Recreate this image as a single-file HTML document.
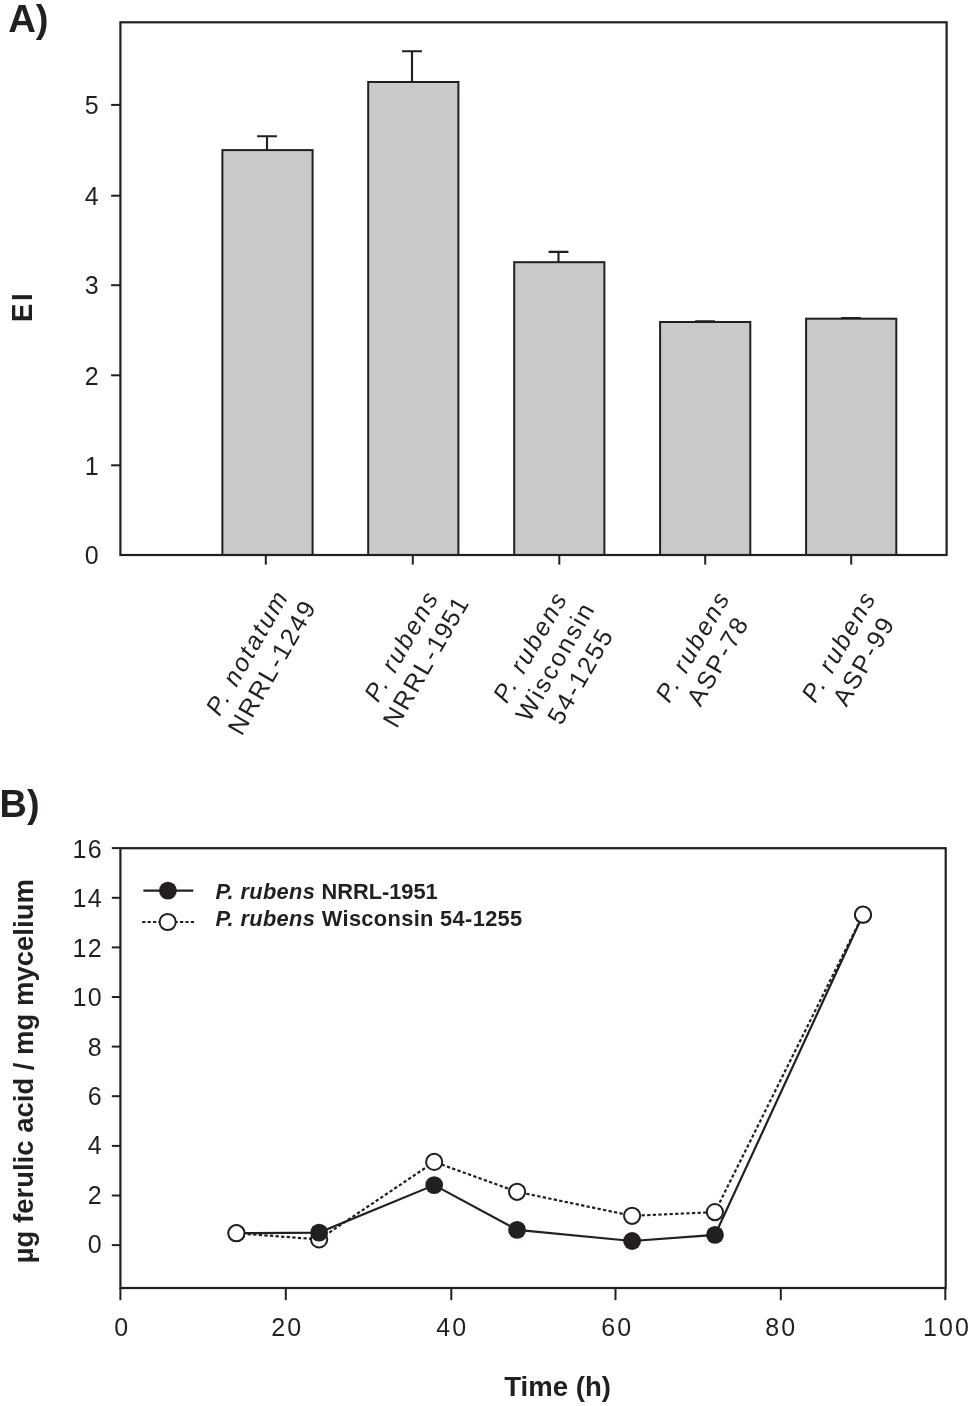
<!DOCTYPE html><html><head><meta charset="utf-8"><title>Figure</title><style>
html,body{margin:0;padding:0;background:#fff;}
body{width:969px;height:1406px;overflow:hidden;font-family:"Liberation Sans",sans-serif;}
svg{display:block;will-change:transform;font-family:"Liberation Sans",sans-serif;fill:#231f20;}
.t{font-size:25px;letter-spacing:0.8px;}
.b{font-weight:bold;}
.i{font-style:italic;}
</style></head><body>
<svg width="969" height="1406" viewBox="0 0 969 1406">
<rect x="0" y="0" width="969" height="1406" fill="#fff"/>
<text x="8.2" y="32" class="b" style="font-size:38.3px">A)</text>
<path d="M267.0 150.1 V136.3 M257.1 136.3 H276.9" stroke="#231f20" stroke-width="2.1" fill="none"/>
<rect x="222.4" y="150.1" width="90.2" height="404.9" fill="#c8c9cb" stroke="#231f20" stroke-width="2"/>
<path d="M265.8 555.0 v9.6" stroke="#231f20" stroke-width="2"/>
<path d="M412.0 82.0 V51.3 M402.1 51.3 H421.9" stroke="#231f20" stroke-width="2.1" fill="none"/>
<rect x="368.2" y="82.0" width="90.2" height="473.0" fill="#c8c9cb" stroke="#231f20" stroke-width="2"/>
<path d="M412.8 555.0 v9.6" stroke="#231f20" stroke-width="2"/>
<path d="M558.5 262.2 V251.9 M548.6 251.9 H568.4" stroke="#231f20" stroke-width="2.1" fill="none"/>
<rect x="514.2" y="262.2" width="90.2" height="292.8" fill="#c8c9cb" stroke="#231f20" stroke-width="2"/>
<path d="M559.3 555.0 v9.6" stroke="#231f20" stroke-width="2"/>
<path d="M705.1 322.0 V321.2 M695.2 321.2 H715.0" stroke="#231f20" stroke-width="2.1" fill="none"/>
<rect x="660.1" y="322.0" width="90.2" height="233.0" fill="#c8c9cb" stroke="#231f20" stroke-width="2"/>
<path d="M705.2 555.0 v9.6" stroke="#231f20" stroke-width="2"/>
<path d="M851.0 318.7 V318.0 M841.1 318.0 H860.9" stroke="#231f20" stroke-width="2.1" fill="none"/>
<rect x="806.1" y="318.7" width="90.2" height="236.3" fill="#c8c9cb" stroke="#231f20" stroke-width="2"/>
<path d="M851.2 555.0 v9.6" stroke="#231f20" stroke-width="2"/>
<rect x="120.4" y="22.3" width="826.2" height="532.7" fill="none" stroke="#231f20" stroke-width="2.2"/>
<text x="98.6" y="564.0" text-anchor="end" class="t" style="letter-spacing:0">0</text>
<path d="M120.4 465.3 h-9.3" stroke="#231f20" stroke-width="2"/>
<text x="98.6" y="474.5" text-anchor="end" class="t" style="letter-spacing:0">1</text>
<path d="M120.4 375.3 h-9.3" stroke="#231f20" stroke-width="2"/>
<text x="98.6" y="384.5" text-anchor="end" class="t" style="letter-spacing:0">2</text>
<path d="M120.4 285.2 h-9.3" stroke="#231f20" stroke-width="2"/>
<text x="98.6" y="294.4" text-anchor="end" class="t" style="letter-spacing:0">3</text>
<path d="M120.4 195.7 h-9.3" stroke="#231f20" stroke-width="2"/>
<text x="98.6" y="204.9" text-anchor="end" class="t" style="letter-spacing:0">4</text>
<path d="M120.4 104.9 h-9.3" stroke="#231f20" stroke-width="2"/>
<text x="98.6" y="114.1" text-anchor="end" class="t" style="letter-spacing:0">5</text>
<text transform="translate(32,322) rotate(-90) scale(1,1.045)" class="b" style="font-size:27.6px;letter-spacing:2.5px">EI</text>
<g transform="translate(266.50,664.83) rotate(-60)">
<text x="1.12" y="-14.55" text-anchor="middle" class="t i" style="letter-spacing:2.25px">P. notatum</text>
<text x="1.07" y="14.55" text-anchor="middle" class="t" style="letter-spacing:2.15px">NRRL-1249</text>
</g>
<g transform="translate(421.00,658.13) rotate(-60)">
<text x="1.12" y="-14.55" text-anchor="middle" class="t i" style="letter-spacing:2.25px">P. rubens</text>
<text x="-0.62" y="14.55" text-anchor="middle" class="t" style="letter-spacing:2.15px">NRRL-<tspan style="letter-spacing:0.85px">1951</tspan></text>
</g>
<g transform="translate(562.30,666.40) rotate(-60)">
<text x="1.12" y="-29.10" text-anchor="middle" class="t i" style="letter-spacing:2.25px">P. rubens</text>
<text x="1.07" y="0.00" text-anchor="middle" class="t" style="letter-spacing:2.15px">Wisconsin</text>
<text x="1.07" y="29.10" text-anchor="middle" class="t" style="letter-spacing:2.15px">54-1255</text>
</g>
<g transform="translate(712.20,658.60) rotate(-60)">
<text x="1.12" y="-14.55" text-anchor="middle" class="t i" style="letter-spacing:2.25px">P. rubens</text>
<text x="1.07" y="14.55" text-anchor="middle" class="t" style="letter-spacing:2.15px">ASP-78</text>
</g>
<g transform="translate(858.20,658.60) rotate(-60)">
<text x="1.12" y="-14.55" text-anchor="middle" class="t i" style="letter-spacing:2.25px">P. rubens</text>
<text x="1.07" y="14.55" text-anchor="middle" class="t" style="letter-spacing:2.15px">ASP-99</text>
</g>
<text x="-0.4" y="816.6" class="b" style="font-size:37.9px">B)</text>
<rect x="120.4" y="848.2" width="825.3" height="439.8" fill="none" stroke="#231f20" stroke-width="2.2"/>
<path d="M120.4 1245.1 h-8.6" stroke="#231f20" stroke-width="2"/>
<text x="102.8" y="1253.0" text-anchor="end" class="t" style="letter-spacing:1.2px">0</text>
<path d="M120.4 1195.5 h-8.6" stroke="#231f20" stroke-width="2"/>
<text x="102.8" y="1203.6" text-anchor="end" class="t" style="letter-spacing:1.2px">2</text>
<path d="M120.4 1145.9 h-8.6" stroke="#231f20" stroke-width="2"/>
<text x="102.8" y="1154.2" text-anchor="end" class="t" style="letter-spacing:1.2px">4</text>
<path d="M120.4 1096.2 h-8.6" stroke="#231f20" stroke-width="2"/>
<text x="102.8" y="1104.9" text-anchor="end" class="t" style="letter-spacing:1.2px">6</text>
<path d="M120.4 1046.6 h-8.6" stroke="#231f20" stroke-width="2"/>
<text x="102.8" y="1055.5" text-anchor="end" class="t" style="letter-spacing:1.2px">8</text>
<path d="M120.4 997.0 h-8.6" stroke="#231f20" stroke-width="2"/>
<text x="102.8" y="1006.1" text-anchor="end" class="t" style="letter-spacing:1.2px">10</text>
<path d="M120.4 947.4 h-8.6" stroke="#231f20" stroke-width="2"/>
<text x="102.8" y="956.7" text-anchor="end" class="t" style="letter-spacing:1.2px">12</text>
<path d="M120.4 897.8 h-8.6" stroke="#231f20" stroke-width="2"/>
<text x="102.8" y="907.3" text-anchor="end" class="t" style="letter-spacing:1.2px">14</text>
<path d="M120.4 848.1 h-8.6" stroke="#231f20" stroke-width="2"/>
<text x="102.8" y="858.0" text-anchor="end" class="t" style="letter-spacing:1.2px">16</text>
<path d="M120.4 1288.0 v12.2" stroke="#231f20" stroke-width="2"/>
<text x="122.2" y="1335.8" text-anchor="middle" class="t" style="letter-spacing:2px">0</text>
<path d="M285.8 1288.0 v12.2" stroke="#231f20" stroke-width="2"/>
<text x="287.2" y="1335.8" text-anchor="middle" class="t" style="letter-spacing:2px">20</text>
<path d="M451.3 1288.0 v12.2" stroke="#231f20" stroke-width="2"/>
<text x="452.2" y="1335.8" text-anchor="middle" class="t" style="letter-spacing:2px">40</text>
<path d="M615.5 1288.0 v12.2" stroke="#231f20" stroke-width="2"/>
<text x="617.2" y="1335.8" text-anchor="middle" class="t" style="letter-spacing:2px">60</text>
<path d="M780.8 1288.0 v12.2" stroke="#231f20" stroke-width="2"/>
<text x="781.2" y="1335.8" text-anchor="middle" class="t" style="letter-spacing:2px">80</text>
<path d="M945.3 1288.0 v12.2" stroke="#231f20" stroke-width="2"/>
<text x="923.1" y="1335.8" class="t" style="letter-spacing:2.1px">100</text>
<polyline points="236.5,1233.2 319.1,1232.6 434.2,1185.1 517.1,1229.9 632.1,1241.0 715.0,1234.9 863.0,914.7" fill="none" stroke="#231f20" stroke-width="2.2"/>
<polyline points="236.4,1233.2 319.1,1239.4 434.2,1161.9 517.1,1191.8 632.1,1215.8 714.9,1212.1 863.0,914.7" fill="none" stroke="#231f20" stroke-width="2.2" stroke-dasharray="3.3 2.3"/>
<circle cx="236.5" cy="1233.2" r="8.9" fill="#231f20"/>
<circle cx="236.4" cy="1233.2" r="8.1" fill="#fff" stroke="#231f20" stroke-width="2"/>
<circle cx="319.1" cy="1239.4" r="8.1" fill="#fff" stroke="#231f20" stroke-width="2"/>
<circle cx="319.1" cy="1232.6" r="8.9" fill="#231f20"/>
<circle cx="434.2" cy="1161.9" r="8.1" fill="#fff" stroke="#231f20" stroke-width="2"/>
<circle cx="434.2" cy="1185.1" r="8.9" fill="#231f20"/>
<circle cx="517.1" cy="1191.8" r="8.1" fill="#fff" stroke="#231f20" stroke-width="2"/>
<circle cx="517.1" cy="1229.9" r="8.9" fill="#231f20"/>
<circle cx="632.1" cy="1215.8" r="8.1" fill="#fff" stroke="#231f20" stroke-width="2"/>
<circle cx="632.1" cy="1241.0" r="8.9" fill="#231f20"/>
<circle cx="714.9" cy="1212.1" r="8.1" fill="#fff" stroke="#231f20" stroke-width="2"/>
<circle cx="715.0" cy="1234.9" r="8.9" fill="#231f20"/>
<circle cx="863.0" cy="914.7" r="8.9" fill="#231f20"/>
<circle cx="863.0" cy="914.7" r="8.1" fill="#fff" stroke="#231f20" stroke-width="2"/>
<path d="M143.4 890.6 H193.3" stroke="#231f20" stroke-width="2.2"/>
<circle cx="167.9" cy="890.6" r="8.9" fill="#231f20"/>
<path d="M142.2 922 H194" stroke="#231f20" stroke-width="2.2" stroke-dasharray="3.2 2.2"/>
<circle cx="167.7" cy="922.0" r="8.1" fill="#fff" stroke="#231f20" stroke-width="2"/>
<text x="215.5" y="899" class="b" style="font-size:21.8px"><tspan class="i" style="letter-spacing:0.35px">P. rubens</tspan><tspan dx="0.2"> NRRL-1951</tspan></text>
<text x="215.5" y="926.3" class="b" style="font-size:21.8px;letter-spacing:0.35px"><tspan class="i" style="letter-spacing:0.35px">P. rubens</tspan><tspan dx="0.2"> Wisconsin 54-1255</tspan></text>
<text transform="translate(33.2,1071.2) rotate(-90)" text-anchor="middle" class="b" style="font-size:27.5px">µg ferulic acid / mg mycelium</text>
<text x="557.6" y="1396.1" text-anchor="middle" class="b" style="font-size:27.55px">Time (h)</text>
</svg></body></html>
